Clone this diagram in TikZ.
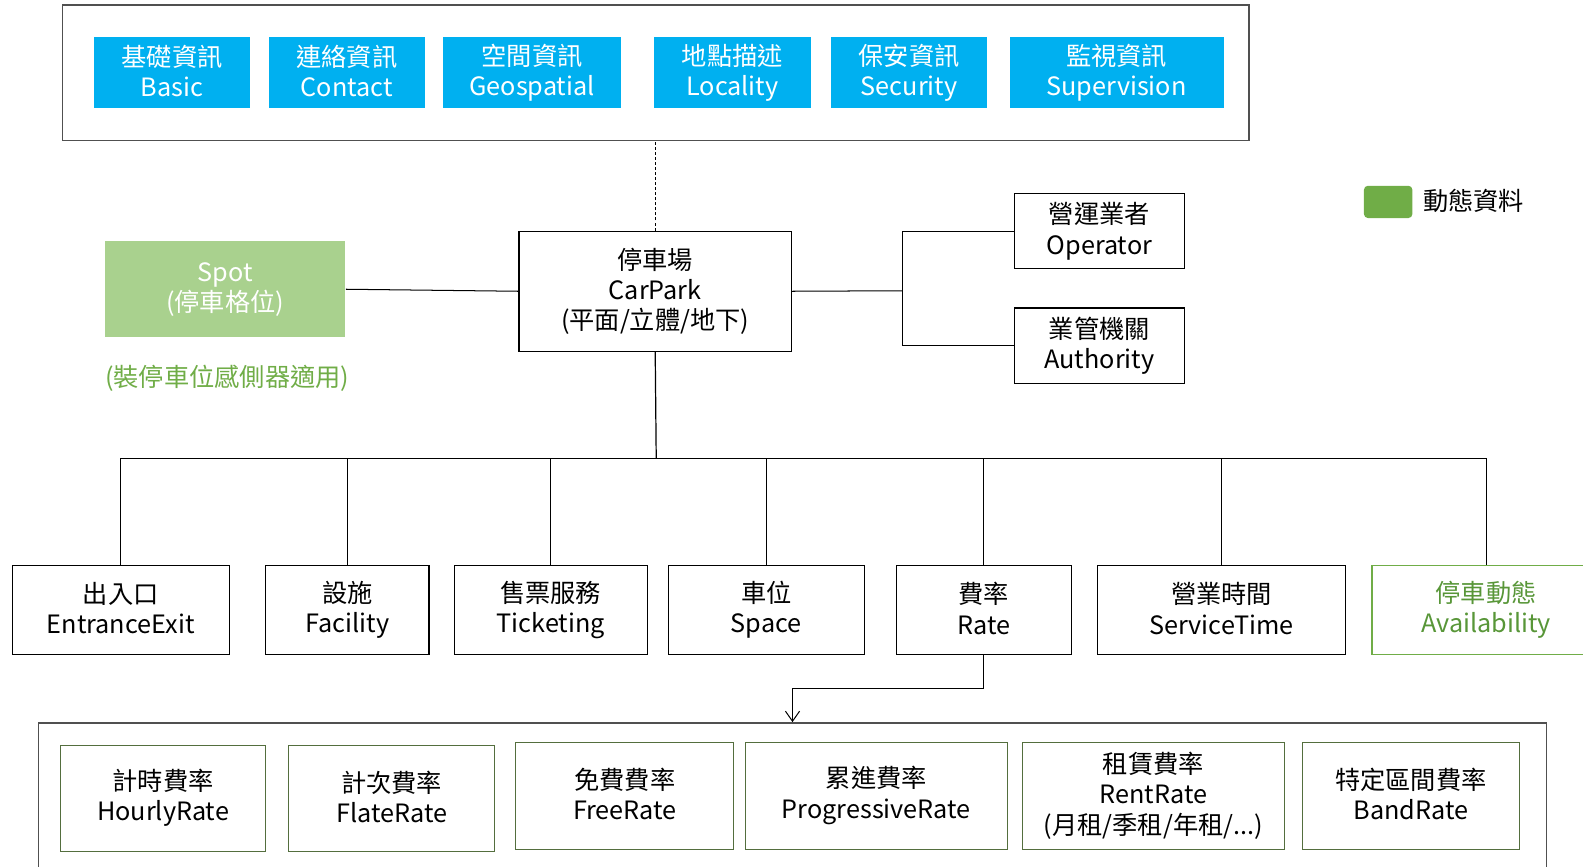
\documentclass[tikz,border=0pt]{standalone}
\usepackage{fontspec}
\setmainfont{Noto Sans CJK TC}
\usetikzlibrary{arrows.meta}

\definecolor{infoblue}{RGB}{0,176,240}
\definecolor{spotgreen}{RGB}{169,209,142}
\definecolor{dyngreen}{RGB}{112,173,71}
\definecolor{dyntext}{RGB}{88,150,56}
\definecolor{rategreen}{RGB}{84,110,62}
\definecolor{framegray}{RGB}{80,80,80}

\tikzset{every picture/.style={line width=1pt}}
\tikzset{
  txt/.style={align=center, inner sep=0pt, font=\fontsize{25}{30}\selectfont,
    execute at begin node={\rule{0pt}{27pt}}, execute at end node={\rule[-3pt]{0pt}{3pt}}},
  infobox/.style={txt, fill=infoblue, text=white, minimum height=70pt},
  plainbox/.style={txt, draw=black, line width=1.2pt},
  ratebox/.style={txt, draw=rategreen, line width=1pt},
  frame/.style={draw=framegray, line width=1.4pt, inner sep=0pt}
}

\begin{document}
\begin{tikzpicture}[x=1pt,y=1pt,yscale=-1,xscale=1]
\useasboundingbox (0,0) rectangle (1568,858);

%Shape: Rectangle [top frame]
\node [frame, minimum width=1175pt, minimum height=134pt] (infoframe) at (649.5,72) {};
%Shape: Rectangle
\node [infobox, minimum width=155pt] (basic) at (170.5,72) {基礎資訊\\Basic};
%Shape: Rectangle
\node [infobox, minimum width=155pt] (contact) at (343.5,72) {連絡資訊\\Contact};
%Shape: Rectangle
\node [infobox, minimum width=176pt] (geo) at (527,72) {空間資訊\\Geospatial};
%Shape: Rectangle
\node [infobox, minimum width=155pt] (locality) at (725.5,72) {地點描述\\Locality};
%Shape: Rectangle
\node [infobox, minimum width=155pt] (security) at (900.5,72) {保安資訊\\Security};
%Shape: Rectangle
\node [infobox, minimum width=212pt] (supervision) at (1106,72) {監視資訊\\Supervision};

%Shape: Rectangle [car park]
\node [plainbox, minimum width=270pt, minimum height=119pt] (carpark) at (649,288.5) {停車場\\CarPark\\(平面/立體/地下)};
%Straight Lines
\draw [dash pattern={on 3pt off 2pt}, line width=0.8pt] (carpark.north) -- (carpark.north |- infoframe.south) ;

%Shape: Rectangle [spot]
\node [txt, fill=spotgreen, text=white, minimum width=238pt, minimum height=95pt] (spot) at (223,286.5) {Spot\\(停車格位)};
%Straight Lines
\draw (spot.east) -- (carpark.west) ;
% Text Node
\node [txt, text=dyngreen] (spotnote) at (225,372) {(裝停車位感側器適用)};

%Shape: Rectangle
\node [plainbox, minimum width=168pt, minimum height=74pt] (operator) at (1089,229) {營運業者\\Operator};
%Shape: Rectangle
\node [plainbox, minimum width=168pt, minimum height=75pt] (authority) at (1089,342.5) {業管機關\\Authority};
%Straight Lines
\coordinate (orgfork) at (894,288);
\draw (carpark.east) -- (orgfork) ;
\draw (operator.west) -| (orgfork) |- (authority.west) ;

%Shape: Rounded Rectangle [legend]
\node [fill=dyngreen, rounded corners=4pt, minimum width=48pt, minimum height=32pt, inner sep=0pt] (legendkey) at (1375,200) {};
% Text Node
\node [txt, anchor=west] (legendtext) at (1409,197) {動態資料};

%Shape: Rectangle [children]
\node [plainbox, minimum width=215pt, minimum height=88pt] (entrance) at (119.5,604) {出入口\\EntranceExit};
\node [plainbox, minimum width=162pt, minimum height=88pt] (facility) at (344,604) {設施\\Facility};
\node [plainbox, minimum width=191pt, minimum height=88pt] (ticketing) at (545.5,604) {售票服務\\Ticketing};
\node [plainbox, minimum width=194pt, minimum height=88pt] (space) at (759,604) {車位\\Space};
\node [plainbox, minimum width=173pt, minimum height=88pt] (rate) at (974.5,604) {費率\\Rate};
\node [plainbox, minimum width=246pt, minimum height=88pt] (servicetime) at (1210,604) {營業時間\\ServiceTime};
\node [txt, draw=dyngreen, text=dyntext, line width=1.2pt, minimum width=226pt, minimum height=88pt] (availability) at (1472,604) {停車動態\\Availability};

%Straight Lines [tree]
\coordinate (childbus) at (650,454);
\draw [line width=1.2pt] (carpark.south) -- (childbus) ;
\draw (childbus) -| (entrance.north) ;
\draw (childbus) -| (facility.north) ;
\draw (childbus) -| (ticketing.north) ;
\draw (childbus) -| (space.north) ;
\draw (childbus) -| (rate.north) ;
\draw (childbus) -| (servicetime.north) ;
\draw (childbus) -| (availability.north) ;

%Shape: Rectangle [rate frame]
\node [frame, minimum width=1494pt, minimum height=160pt] (rateframe) at (785,796) {};
%Shape: Rectangle
\node [ratebox, minimum width=203pt, minimum height=105pt] (hourly) at (161.5,790.5) {計時費率\\HourlyRate};
\node [ratebox, minimum width=204pt, minimum height=105pt] (flat) at (388,790.5) {計次費率\\FlateRate};
\node [ratebox, minimum width=216pt, minimum height=106pt] (free) at (619,788) {免費費率\\FreeRate};
\node [ratebox, minimum width=260pt, minimum height=106pt] (progressive) at (868,788) {累進費率\\ProgressiveRate};
\node [ratebox, minimum width=259pt, minimum height=106pt] (rent) at (1142.5,788) {租賃費率\\RentRate\\(月租/季租/年租/...)};
\node [ratebox, minimum width=215pt, minimum height=106pt] (band) at (1397.5,788) {特定區間費率\\BandRate};

%Straight Lines [rate arrow]
\coordinate (ratedrop) at (785,682);
\draw [-{Straight Barb[length=10pt,width=14pt]}] (rate.south) |- (ratedrop) -- (ratedrop |- rateframe.north) ;

\end{tikzpicture}
\end{document}
